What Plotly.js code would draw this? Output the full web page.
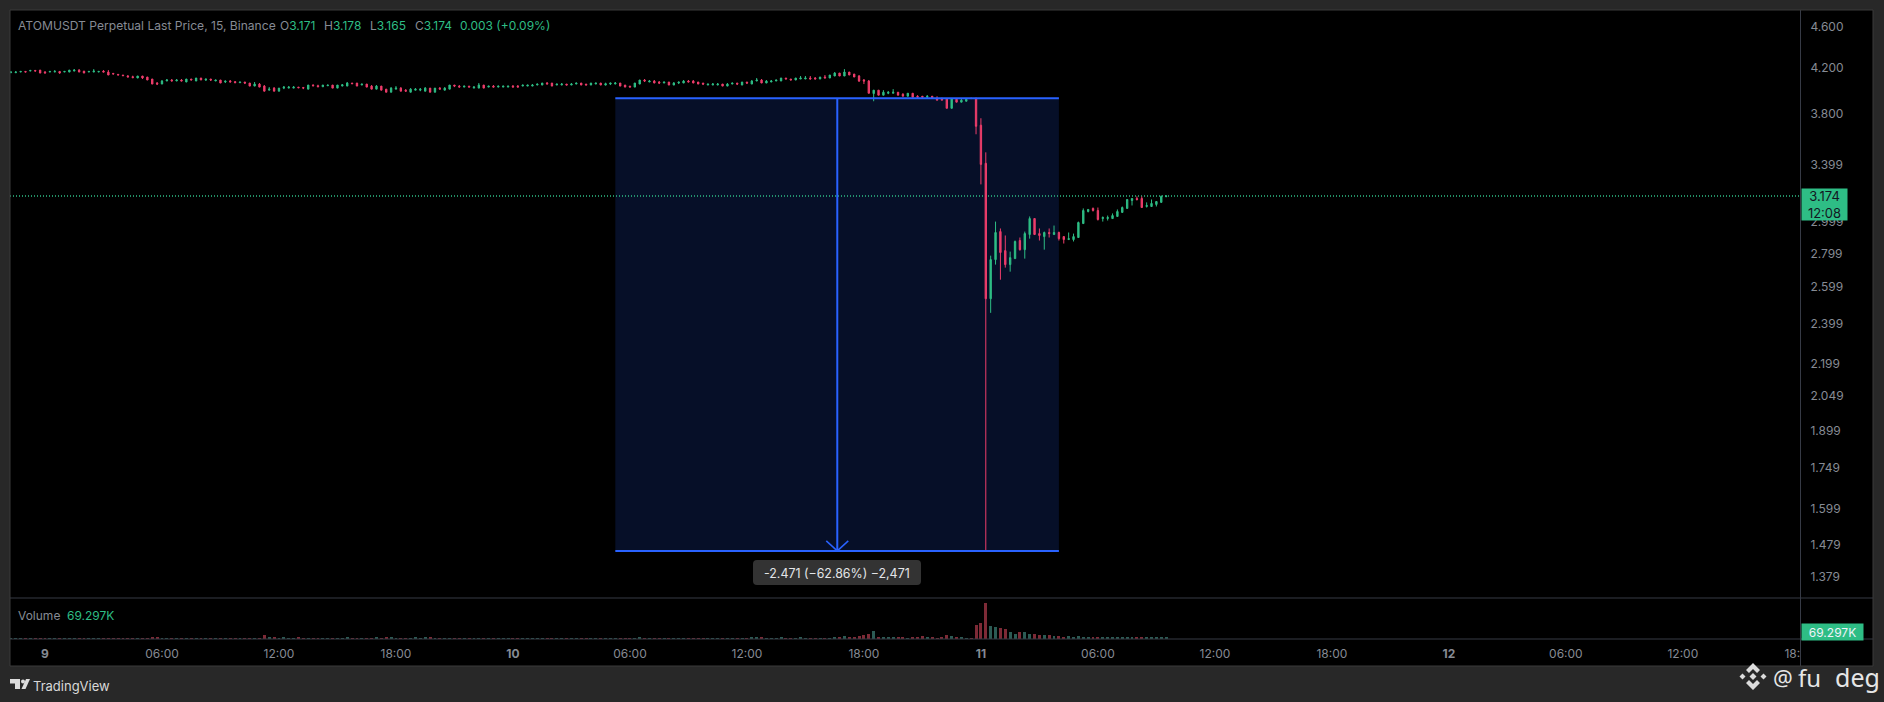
<!DOCTYPE html>
<html>
<head>
<meta charset="utf-8">
<script src="https://cdn.plot.ly/plotly-3.0.1.min.js"></script>
<style>
  html, body { margin: 0; padding: 0; background: #282828; }
  #chart { width: 1884px; height: 702px; }
</style>
</head>
<body>
<div id="chart"></div>
<script>
// ATOMUSDT 15m candles
const firstCandle = "2025-10-08T22:15:00Z";

const open = [
  4.159,4.159,4.165,4.171,4.174,4.180,4.183,4.165,4.165,4.165,
  4.171,4.165,4.165,4.174,4.183,4.174,4.165,4.165,4.165,4.174,
  4.165,4.153,4.144,4.138,4.129,4.123,4.111,4.129,4.120,4.102,
  4.066,4.057,4.084,4.093,4.084,4.093,4.075,4.102,4.084,4.111,
  4.093,4.102,4.084,4.093,4.075,4.084,4.078,4.069,4.075,4.066,
  4.039,4.057,4.039,4.003,4.021,3.994,4.021,4.021,4.021,4.030,
  4.027,4.012,4.048,4.042,4.033,4.042,4.048,4.021,4.039,4.039,
  4.066,4.066,4.048,4.057,4.039,4.012,4.039,4.012,3.985,4.012,
  4.021,4.003,3.985,4.003,4.003,3.994,4.021,3.985,4.021,4.003,
  4.012,4.048,4.039,4.030,4.039,4.021,4.021,4.048,4.030,4.039,
  4.030,4.030,4.030,4.039,4.039,4.039,4.039,4.039,4.048,4.048,
  4.066,4.066,4.048,4.048,4.057,4.048,4.057,4.066,4.057,4.048,
  4.057,4.066,4.048,4.057,4.057,4.066,4.048,4.039,4.030,4.057,
  4.093,4.075,4.084,4.075,4.066,4.075,4.048,4.066,4.066,4.084,
  4.084,4.075,4.066,4.048,4.048,4.048,4.057,4.039,4.057,4.066,
  4.048,4.075,4.057,4.084,4.093,4.066,4.075,4.084,4.084,4.111,
  4.102,4.093,4.102,4.102,4.111,4.111,4.102,4.120,4.111,4.129,
  4.156,4.129,4.165,4.147,4.129,4.093,4.084,3.973,4.003,3.959,
  3.976,3.976,3.985,3.968,3.950,3.976,3.950,3.950,3.942,3.950,
  3.933,3.933,3.930,3.847,3.924,3.899,3.907,3.933,3.933,
  3.707,3.410,2.534,2.761,2.936,2.816,2.731,2.767,2.879,2.822,
  2.917,3.021,2.923,2.904,2.930,2.917,2.930,2.904,2.885,2.885,
  2.898,2.988,3.068,3.089,3.075,3.021,3.021,3.021,3.035,3.062,
  3.089,3.143,3.157,3.157,3.102,3.102,3.116,3.130,3.171
];
const high = [
  4.174,4.174,4.171,4.171,4.180,4.180,4.183,4.174,4.171,4.183,
  4.171,4.171,4.183,4.192,4.192,4.174,4.171,4.192,4.171,4.183,
  4.183,4.153,4.144,4.138,4.138,4.132,4.129,4.129,4.120,4.102,
  4.075,4.093,4.102,4.102,4.102,4.102,4.102,4.102,4.111,4.111,
  4.102,4.102,4.093,4.093,4.084,4.093,4.084,4.075,4.075,4.066,
  4.075,4.066,4.048,4.030,4.030,4.021,4.039,4.039,4.039,4.030,
  4.027,4.048,4.054,4.051,4.048,4.048,4.048,4.048,4.057,4.075,
  4.066,4.066,4.057,4.057,4.048,4.048,4.039,4.012,4.030,4.039,
  4.030,4.012,4.021,4.021,4.021,4.030,4.021,4.021,4.030,4.030,
  4.048,4.048,4.048,4.039,4.039,4.039,4.066,4.048,4.039,4.048,
  4.039,4.039,4.039,4.048,4.048,4.048,4.048,4.057,4.057,4.066,
  4.075,4.066,4.057,4.066,4.057,4.066,4.066,4.066,4.057,4.066,
  4.066,4.066,4.069,4.066,4.075,4.066,4.048,4.039,4.066,4.093,
  4.102,4.093,4.093,4.084,4.075,4.075,4.075,4.075,4.093,4.093,
  4.093,4.075,4.066,4.057,4.066,4.066,4.057,4.066,4.066,4.066,
  4.075,4.075,4.093,4.111,4.102,4.093,4.093,4.093,4.111,4.111,
  4.102,4.111,4.129,4.129,4.129,4.120,4.120,4.138,4.138,4.165,
  4.156,4.192,4.165,4.147,4.138,4.102,4.093,4.003,4.003,4.003,
  3.994,4.012,3.985,3.976,3.976,3.976,3.959,3.950,3.959,3.950,
  3.950,3.933,3.933,3.933,3.933,3.933,3.933,3.936,3.936,
  3.764,3.493,2.785,3.001,2.956,2.911,2.810,2.879,2.898,2.936,
  3.035,3.021,2.956,2.936,2.956,2.975,2.936,2.904,2.930,2.923,
  3.001,3.089,3.082,3.095,3.095,3.035,3.041,3.055,3.082,3.102,
  3.150,3.157,3.171,3.171,3.130,3.150,3.136,3.178,3.178
];
const low = [
  4.159,4.159,4.165,4.165,4.174,4.174,4.156,4.156,4.165,4.165,
  4.150,4.165,4.165,4.174,4.165,4.156,4.165,4.165,4.165,4.165,
  4.138,4.147,4.138,4.132,4.120,4.114,4.111,4.102,4.093,4.057,
  4.048,4.057,4.084,4.084,4.084,4.084,4.075,4.093,4.084,4.093,
  4.084,4.084,4.084,4.066,4.066,4.075,4.069,4.069,4.057,4.039,
  4.039,4.030,3.994,4.003,3.994,3.994,4.012,4.021,4.021,4.024,
  4.012,4.012,4.036,4.033,4.033,4.042,4.021,4.021,4.039,4.039,
  4.060,4.039,4.048,4.030,4.012,4.012,4.003,3.985,3.985,4.012,
  3.994,3.994,3.985,4.003,3.994,3.994,3.985,3.985,4.012,4.003,
  4.012,4.030,4.030,4.030,4.030,4.021,4.021,4.021,4.030,4.030,
  4.030,4.030,4.030,4.030,4.030,4.039,4.039,4.039,4.048,4.048,
  4.057,4.039,4.048,4.048,4.048,4.048,4.057,4.048,4.048,4.048,
  4.057,4.048,4.045,4.048,4.057,4.039,4.030,4.030,4.030,4.057,
  4.075,4.075,4.066,4.057,4.066,4.048,4.048,4.057,4.066,4.075,
  4.066,4.057,4.048,4.048,4.048,4.048,4.039,4.039,4.057,4.048,
  4.048,4.057,4.057,4.084,4.066,4.066,4.075,4.084,4.084,4.102,
  4.093,4.093,4.102,4.102,4.102,4.102,4.102,4.111,4.111,4.129,
  4.129,4.129,4.138,4.120,4.075,4.057,3.976,3.907,3.959,3.959,
  3.968,3.976,3.959,3.950,3.950,3.942,3.933,3.942,3.933,3.933,
  3.916,3.916,3.847,3.847,3.899,3.899,3.907,3.928,3.634,
  3.256,1.460,2.457,2.731,2.642,2.713,2.689,2.767,2.816,2.767,
  2.891,2.917,2.879,2.822,2.898,2.917,2.879,2.860,2.885,2.873,
  2.898,2.988,3.062,3.068,3.008,3.001,3.008,3.021,3.035,3.062,
  3.089,3.109,3.143,3.095,3.095,3.102,3.102,3.130,3.165
];
const close = [
  4.165,4.165,4.171,4.165,4.180,4.174,4.156,4.156,4.171,4.171,
  4.156,4.171,4.183,4.183,4.165,4.156,4.171,4.174,4.171,4.165,
  4.138,4.147,4.138,4.132,4.120,4.114,4.129,4.111,4.093,4.057,
  4.057,4.084,4.093,4.084,4.093,4.084,4.102,4.093,4.111,4.093,
  4.102,4.093,4.093,4.066,4.084,4.075,4.069,4.075,4.066,4.039,
  4.057,4.030,3.994,4.012,3.994,4.021,4.030,4.030,4.030,4.024,
  4.021,4.048,4.042,4.033,4.048,4.048,4.021,4.048,4.051,4.066,
  4.060,4.039,4.057,4.030,4.012,4.039,4.003,3.985,4.021,4.021,
  3.994,3.994,4.012,4.012,4.012,4.021,3.985,4.021,4.012,4.021,
  4.048,4.039,4.030,4.039,4.030,4.030,4.048,4.021,4.039,4.030,
  4.039,4.039,4.039,4.030,4.030,4.048,4.048,4.048,4.057,4.066,
  4.057,4.039,4.057,4.057,4.048,4.057,4.066,4.048,4.048,4.066,
  4.066,4.048,4.060,4.066,4.066,4.039,4.030,4.030,4.066,4.093,
  4.084,4.084,4.066,4.066,4.075,4.048,4.066,4.075,4.084,4.075,
  4.066,4.057,4.057,4.057,4.057,4.057,4.039,4.057,4.066,4.057,
  4.075,4.066,4.084,4.093,4.066,4.084,4.084,4.093,4.111,4.102,
  4.093,4.111,4.111,4.111,4.102,4.102,4.120,4.111,4.138,4.156,
  4.129,4.165,4.138,4.120,4.084,4.084,3.976,4.003,3.959,3.985,
  3.985,3.985,3.959,3.950,3.976,3.942,3.942,3.942,3.950,3.933,
  3.916,3.916,3.847,3.930,3.899,3.916,3.924,3.930,3.698,
  3.402,2.534,2.761,2.930,2.804,2.731,2.773,2.873,2.822,2.923,
  3.021,2.917,2.911,2.930,2.923,2.930,2.891,2.885,2.891,2.904,
  2.995,3.075,3.082,3.075,3.015,3.028,3.028,3.041,3.068,3.095,
  3.150,3.157,3.150,3.095,3.109,3.123,3.136,3.171,3.174
];
// volume in thousands
const volume = [
  50,50,50,50,50,50,50,50,50,50,
  50,50,50,50,50,50,50,50,50,50,
  50,50,50,50,50,50,50,50,50,100,
  100,50,50,50,50,50,50,50,50,50,
  50,50,50,50,50,50,50,50,50,50,
  50,50,200,100,100,50,100,50,50,100,
  50,50,50,50,50,50,50,50,50,100,
  50,50,50,50,50,100,50,100,100,50,
  50,50,50,100,50,100,100,50,50,50,
  50,50,50,50,50,50,50,50,50,50,
  50,50,50,50,50,50,50,50,50,50,
  50,50,50,50,50,50,50,50,50,50,
  50,50,50,50,50,50,50,50,50,100,
  50,50,50,50,50,50,50,50,50,50,
  50,50,50,50,50,50,50,50,50,50,
  50,50,100,100,100,50,50,50,100,50,
  50,50,100,50,50,50,50,50,50,100,
  100,150,100,100,150,200,250,400,100,100,
  100,100,100,100,50,100,100,150,100,100,
  50,100,200,150,100,100,50,50,700,
  800,1800,650,600,550,500,350,250,350,350,
  250,250,200,200,200,150,150,100,150,100,
  150,100,100,100,100,100,100,100,100,100,
  100,100,100,100,100,100,100,100,69.297
];

const priceTicks = [4.6, 4.2, 3.8, 3.399, 2.999, 2.799, 2.599, 2.399, 2.199, 2.049, 1.899, 1.749, 1.599, 1.479, 1.379];
const priceLabels = ["4.600", "4.200", "3.800", "3.399", "2.999", "2.799", "2.599", "2.399", "2.199", "2.049", "1.899", "1.749", "1.599", "1.479", "1.379"];
const timeTicks = [
  "2025-10-09 00:00", "2025-10-09 06:00", "2025-10-09 12:00", "2025-10-09 18:00",
  "2025-10-10 00:00", "2025-10-10 06:00", "2025-10-10 12:00", "2025-10-10 18:00",
  "2025-10-11 00:00", "2025-10-11 06:00", "2025-10-11 12:00", "2025-10-11 18:00",
  "2025-10-12 00:00", "2025-10-12 06:00", "2025-10-12 12:00", "2025-10-12 18:00"
];
const timeLabels = ["<b>9</b>", "06:00", "12:00", "18:00", "<b>10</b>", "06:00", "12:00", "18:00", "<b>11</b>", "06:00", "12:00", "18:00", "<b>12</b>", "06:00", "12:00", "18:00"];

const rangeStart = "2025-10-08 22:12:18";
const rangeEnd = "2025-10-12 18:00:30";
const measureStart = "2025-10-10 05:15";
const measureEnd = "2025-10-11 04:00";
const measureMid = "2025-10-10 16:38";
const measureTop = 3.933;
const measureBottom = 1.458;
const measureText = "-2.471 (\u221262.86%) \u22122,471";

const GREEN = "#2ebd85";
const RED = "#ee3d6b";
const GREY = "#868b94";
const BLUE = "#2962ff";
const LINE = "#363a45";
const FONT = "Inter, sans-serif";
const W = 1884, H = 702;

const px = (x) => x / W;
const py = (y) => 1 - y / H;

let times = [];
for (let i = 0; i < close.length; i++) {
  times.push(new Date(Date.parse(firstCandle) + i * 900000).toISOString().slice(0, 16).replace("T", " "));
}
const barColors = close.map((c, i) => (c >= open[i] ? "#2c5b54" : "#7d2a36"));
const n = close.length - 1;

function green(value) {
  return '<span style="color:' + GREEN + '">' + value + "</span>";
}

function paperRect(x0, y0, x1, y1, fill, layer) {
  return { type: "rect", xref: "paper", yref: "paper", x0: px(x0), x1: px(x1), y0: py(y0), y1: py(y1),
    fillcolor: fill, line: { width: 0 }, layer: layer };
}
function paperLine(x0, y0, x1, y1) {
  return { type: "line", xref: "paper", yref: "paper", x0: px(x0), x1: px(x1), y0: py(y0), y1: py(y1),
    line: { color: LINE, width: 1 }, layer: "above" };
}
function paperPath(points, fill) {
  let d = points.map((p, i) => (i ? "L" : "M") + px(p[0]) + "," + py(p[1])).join(" ") + " Z";
  return { type: "path", xref: "paper", yref: "paper", path: d, fillcolor: fill, line: { width: 0 }, layer: "above" };
}
function roundedRect(x0, y0, x1, y1, r, fill) {
  const P = (x, y) => px(x) + "," + py(y);
  let d = "M" + P(x0 + r, y0) + " L" + P(x1 - r, y0) + " Q" + P(x1, y0) + " " + P(x1, y0 + r) +
    " L" + P(x1, y1 - r) + " Q" + P(x1, y1) + " " + P(x1 - r, y1) +
    " L" + P(x0 + r, y1) + " Q" + P(x0, y1) + " " + P(x0, y1 - r) +
    " L" + P(x0, y0 + r) + " Q" + P(x0, y0) + " " + P(x0 + r, y0) + " Z";
  return { type: "path", xref: "paper", yref: "paper", path: d, fillcolor: fill, line: { width: 0 }, layer: "above" };
}
function diamond(cx, cy, r, fill) {
  return paperPath([[cx, cy - r], [cx + r, cy], [cx, cy + r], [cx - r, cy]], fill);
}

const LOGO = "#dcdcdc";
const bx = 1753, by = 676.5;

const shapes = [
  paperRect(10, 10, 1873, 666, "#000000", "below"),
  { type: "rect", xref: "x", yref: "y", x0: measureStart, x1: measureEnd, y0: measureBottom, y1: measureTop,
    fillcolor: "#060f28", line: { width: 0 }, layer: "below" },
  { type: "line", xref: "x", yref: "y", x0: rangeStart, x1: rangeEnd, y0: close[n], y1: close[n],
    line: { color: GREEN, width: 1.5, dash: "1px,2px" }, layer: "below" },
  { type: "line", xref: "x", yref: "y", x0: measureStart, x1: measureEnd, y0: measureTop, y1: measureTop,
    line: { color: BLUE, width: 2 }, layer: "above" },
  { type: "line", xref: "x", yref: "y", x0: measureStart, x1: measureEnd, y0: measureBottom, y1: measureBottom,
    line: { color: BLUE, width: 2 }, layer: "above" },
  { type: "line", xref: "x", yref: "y", x0: measureMid, x1: measureMid, y0: measureBottom, y1: measureTop,
    line: { color: BLUE, width: 2 }, layer: "above" },
  { type: "line", xref: "x", yref: "y", xsizemode: "pixel", ysizemode: "pixel", xanchor: measureMid, yanchor: measureBottom,
    x0: -11, x1: 0, y0: 10, y1: 0, line: { color: BLUE, width: 1.5 }, layer: "above" },
  { type: "line", xref: "x", yref: "y", xsizemode: "pixel", ysizemode: "pixel", xanchor: measureMid, yanchor: measureBottom,
    x0: 11, x1: 0, y0: 10, y1: 0, line: { color: BLUE, width: 1.5 }, layer: "above" },
  roundedRect(753, 560, 921, 585, 4, "#333333"),
  // hides the right half of the last time label, as in the picture
  paperRect(1800, 640, 1873, 666, "#000000", "above"),
  paperLine(10, 598, 1873, 598),
  paperLine(10, 639, 1873, 639),
  paperLine(1800.5, 10, 1800.5, 666),
  { type: "rect", xref: "paper", yref: "paper", x0: px(10), x1: px(1873), y0: py(666), y1: py(10),
    line: { color: "#3a3a3a", width: 1 }, layer: "above" },
  // TradingView mark
  paperPath([[10, 679], [20, 679], [20, 689], [15, 689], [15, 683.5], [10, 683.5]], LOGO),
  paperPath([[26, 679], [30, 679], [25.5, 689], [21.5, 689]], LOGO),
  { type: "circle", xref: "paper", yref: "paper", x0: px(21), x1: px(25), y0: py(683.5), y1: py(679.5),
    fillcolor: LOGO, line: { width: 0 }, layer: "above" },
  // Binance mark
  paperPath([[bx - 7, by - 6.5], [bx, by - 13.5], [bx + 7, by - 6.5], [bx + 4, by - 3.5], [bx, by - 7.5], [bx - 4, by - 3.5]], LOGO),
  paperPath([[bx - 7, by + 6.5], [bx, by + 13.5], [bx + 7, by + 6.5], [bx + 4, by + 3.5], [bx, by + 7.5], [bx - 4, by + 3.5]], LOGO),
  diamond(bx, by, 3.5, LOGO),
  diamond(bx - 10.5, by, 3, LOGO),
  diamond(bx + 10.5, by, 3, LOGO)
];

function note(text, x, y, opts) {
  return Object.assign({ text: text, xref: "paper", yref: "paper", x: px(x), y: py(y), xanchor: "left", yanchor: "middle",
    showarrow: false, align: "left", font: { family: FONT, size: 12, color: GREY } }, opts || {});
}

const annotations = [
  note("ATOMUSDT Perpetual Last Price, 15, Binance", 16, 25.5, { font: { family: FONT, size: 12.1, color: GREY } }),
  note("O" + green(open[n].toFixed(3)), 278, 25.5),
  note("H" + green(high[n].toFixed(3)), 322, 25.5),
  note("L" + green(low[n].toFixed(3)), 368, 25.5),
  note("C" + green(close[n].toFixed(3)), 413, 25.5),
  note(green("0.003 (+0.09%)"), 458, 25.5),
  note("Volume", 16, 615),
  note(green("69.297K"), 65, 615),
  note(close[n].toFixed(3) + "<br>12:08", 1801, 188, { yanchor: "top", bgcolor: GREEN, width: 45, height: 31, borderpad: 0, align: "center",
    font: { family: FONT, size: 13, color: "#131722" } }),
  note("69.297K", 1801, 623, { yanchor: "top", bgcolor: GREEN, width: 61, height: 16, borderpad: 0, align: "center",
    font: { family: FONT, size: 12, color: "#f0f3fa" } }),
  { text: measureText, xref: "x", yref: "paper", x: measureMid, y: py(573), xanchor: "center", yanchor: "middle", showarrow: false,
    font: { family: FONT, size: 12.4, color: "#e3e5e8" } },
  note("TradingView", 31, 686, { font: { family: FONT, size: 13, color: "#d9d9d9" } }),
  note("@", 1771, 677, { font: { family: "Noto Sans, sans-serif", size: 22, color: "#e6e6e6" } }),
  note("fu", 1796, 677, { font: { family: "Noto Sans, sans-serif", size: 24, color: "#e6e6e6" } }),
  note("deg", 1833, 677, { font: { family: "Noto Sans, sans-serif", size: 25, color: "#e6e6e6" } })
];

const traces = [
  {
    type: "candlestick", x: times, open: open, high: high, low: low, close: close, xaxis: "x", yaxis: "y",
    increasing: { line: { color: GREEN, width: 1 }, fillcolor: GREEN },
    decreasing: { line: { color: RED, width: 1 }, fillcolor: RED },
    whiskerwidth: 0, hoverinfo: "skip", showlegend: false
  },
  {
    type: "bar", x: times, y: volume, xaxis: "x", yaxis: "y2", width: 540000,
    marker: { color: barColors, line: { width: 0 } }, hoverinfo: "skip", showlegend: false
  }
];

const layout = {
  width: W, height: H,
  margin: { l: 0, r: 0, t: 0, b: 0, pad: 0 },
  paper_bgcolor: "#282828",
  plot_bgcolor: "rgba(0,0,0,0)",
  showlegend: false,
  boxgap: 0.6,
  bargap: 0,
  font: { family: FONT, size: 12, color: GREY },
  xaxis: {
    domain: [px(10), px(1800)], anchor: "y2", type: "date",
    range: [rangeStart, rangeEnd],
    rangeslider: { visible: false },
    tickmode: "array", tickvals: timeTicks, ticktext: timeLabels,
    ticks: "outside", ticklen: 4, tickcolor: "rgba(0,0,0,0)", tickangle: 0,
    showgrid: false, zeroline: false, showline: false, automargin: false,
    tickfont: { family: FONT, size: 12, color: GREY }
  },
  yaxis: {
    domain: [py(597.5), py(10)], anchor: "x", side: "right", type: "log",
    range: [0.1194, 0.6787],
    tickmode: "array", tickvals: priceTicks, ticktext: priceLabels,
    ticks: "outside", ticklen: 7, tickcolor: "rgba(0,0,0,0)",
    showgrid: false, zeroline: false, showline: false, automargin: false,
    tickfont: { family: FONT, size: 12, color: GREY }
  },
  yaxis2: {
    domain: [py(639), py(598)], anchor: "x", side: "right", range: [0, 2050],
    showticklabels: false, ticks: "", showgrid: false, zeroline: false, showline: false, automargin: false
  },
  shapes: shapes,
  annotations: annotations
};

Plotly.newPlot("chart", traces, layout, { displayModeBar: false, responsive: false });
</script>
</body>
</html>
